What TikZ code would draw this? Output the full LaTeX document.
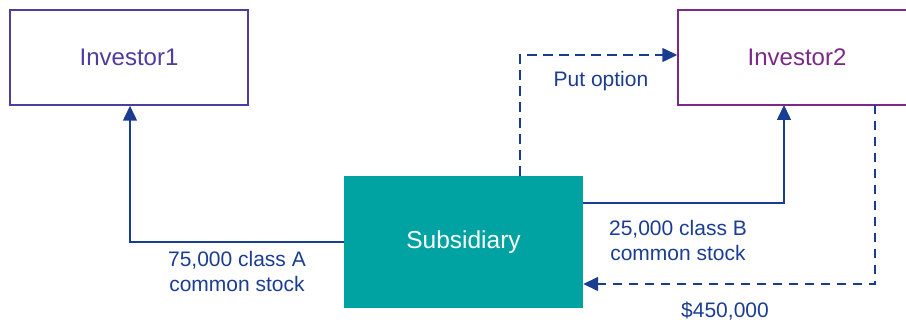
\documentclass[tikz,border=0pt]{standalone}
\usepackage{fontspec}
\setmainfont{Liberation Sans}
\usetikzlibrary{arrows.meta}
\definecolor{lineblue}{HTML}{1B3D91}
\definecolor{invone}{HTML}{4E3C9E}
\definecolor{invtwo}{HTML}{7A2A86}
\definecolor{teal}{HTML}{00A3A1}
\begin{document}
\begin{tikzpicture}[x=1pt,y=-1pt,
  invbox/.style={draw, line width=1.5pt, minimum width=238pt, minimum height=95pt, inner sep=0pt, font=\fontsize{24}{28}\selectfont},
  conn/.style={draw=lineblue, line width=1.5pt, -{Triangle[length=15pt,width=14pt]}},
  dsh/.style={dash pattern=on 9.5pt off 6.5pt},
  lbl/.style={text=lineblue, font=\fontsize{21}{25}\selectfont, align=center}]
\useasboundingbox (0,0) rectangle (906,323);
\node[invbox, draw=invone, text=invone] (inv1) at (129,57.5) {Investor1};
\node[invbox, draw=invtwo, text=invtwo] (inv2) at (797,57.5) {Investor2};
\node[fill=teal, text=white, minimum width=239pt, minimum height=132pt, inner sep=0pt, font=\fontsize{24.5}{28}\selectfont] (sub) at (463.5,242) {Subsidiary};
\coordinate (c1) at (130,242);
\draw[conn] (sub.west |- 0,242) -| (inv1.south -| c1);
\draw[conn, dsh] (520,176) |- (inv2.west |- 0,55);
\draw[conn] (sub.east |- 0,203) -| (784,105);
\draw[conn, dsh] (875,105) |- (sub.east |- 0,284);
\node[lbl] (la) at (237,271) {75,000 class A\\common stock};
\node[lbl] (lp) at (601,81) {Put option};
\node[lbl] (lb) at (678,240) {25,000 class B\\common stock};
\node[lbl] (lc) at (725,311) {\$450,000};
\end{tikzpicture}
\end{document}
